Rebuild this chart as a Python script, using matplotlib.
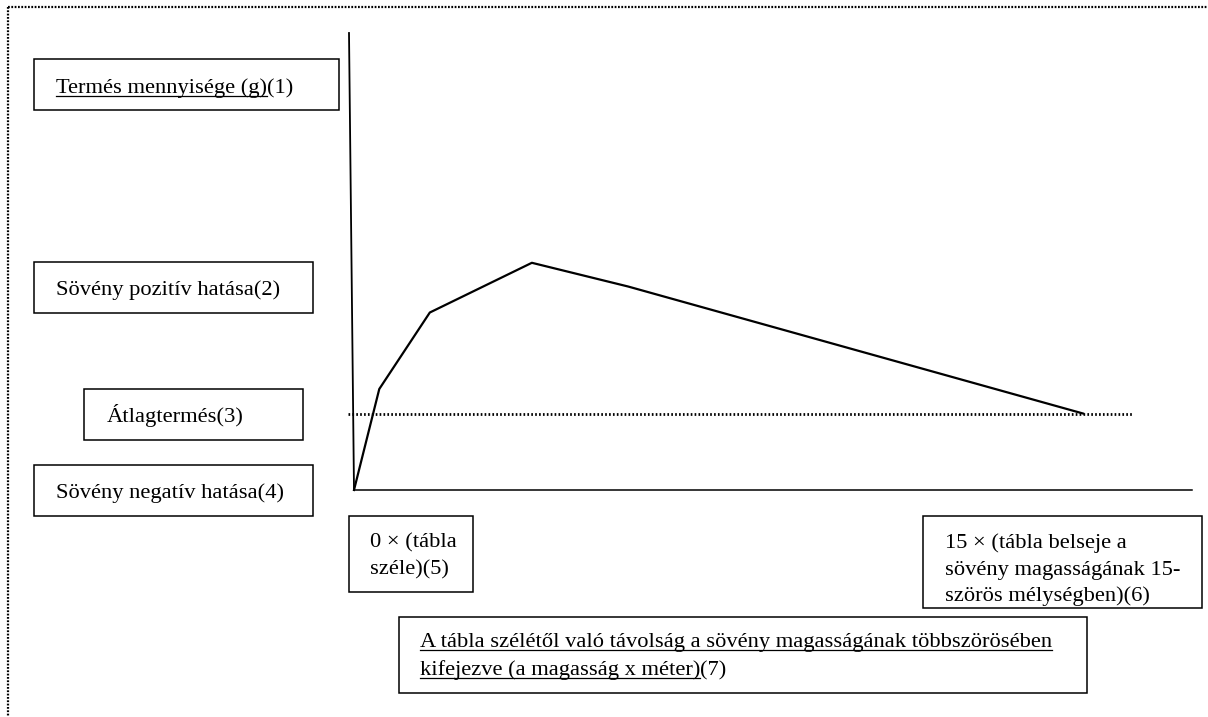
import matplotlib.pyplot as plt
from matplotlib.patches import Rectangle

plt.rcParams['font.family'] = ['Liberation Serif', 'DejaVu Serif']

# distance from field edge (multiples of hedge height) and relative yield (average = 1)
dist_x = [0, 0.52, 1.56, 3.66, 5.64, 15]
yield_y = [0, 1.32, 2.32, 2.97, 2.66, 1.0]
avg_yield = 1.0

label_y = "Termés mennyisége (g)"
label_pos = "Sövény pozitív hatása(2)"
label_avg = "Átlagtermés(3)"
label_neg = "Sövény negatív hatása(4)"
label_x0 = ["0 × (tábla", "széle)(5)"]
label_x15 = ["15 × (tábla belseje a", "sövény magasságának 15-", "szörös mélységben)(6)"]
label_x = ["A tábla szélétől való távolság a sövény magasságának többszörösében",
           "kifejezve (a magasság x méter)"]

W, H = 1208, 717
fig = plt.figure(figsize=(W / 100, H / 100), dpi=100)

# overlay axes in pixel coordinates for the frame and the text boxes
ax = fig.add_axes([0, 0, 1, 1])
ax.set_xlim(0, W)
ax.set_ylim(H, 0)
ax.axis('off')

# data axes: x 0 at px 354, 48.6 px per unit; y 0 at px 490, 76.5 px per unit
x0, x1, y0, y1 = 354, 1192, 490, 33
dax = fig.add_axes([x0 / W, (H - y0) / H, (x1 - x0) / W, (y0 - y1) / H])
dax.set_xlim(0, (x1 - x0) / 48.6)
dax.set_ylim(0, (y0 - y1) / 76.5)
dax.axis('off')
dax.patch.set_alpha(0)

dax.plot([-(x0 - 349) / 48.6, 0], [(y0 - y1) / 76.5, 0], color='black', lw=1.3, clip_on=False)
dax.plot([0, (x1 - x0) / 48.6], [0, 0], color='black', lw=1.1, clip_on=False)
dax.plot(dist_x, yield_y, color='black', lw=1.6, clip_on=False)
dax.plot([-0.13, 16.03], [avg_yield, avg_yield], color='black', lw=2.0,
         linestyle=(0, (0.6, 0.8)), clip_on=False)

# dotted outer frame
ax.plot([8, W], [7, 7], color='black', lw=1.6, linestyle=(0, (0.8, 0.7)))
ax.plot([8, 8], [7, H], color='black', lw=1.6, linestyle=(0, (0.8, 0.7)))

boxes = [(34, 59, 339, 110), (34, 262, 313, 313), (84, 389, 303, 440),
         (34, 465, 313, 516), (349, 516, 473, 592), (923, 516, 1202, 608),
         (399, 617, 1087, 693)]
for bx0, by0, bx1, by1 in boxes:
    ax.add_patch(Rectangle((bx0, by0), bx1 - bx0, by1 - by0, fill=True,
                           facecolor='white', edgecolor='black', lw=1.1, zorder=3))

fs = 16.2
renderer = fig.canvas.get_renderer()


def put(x, y, s, underline=False):
    t = ax.text(x, y, s, fontsize=fs, va='baseline', ha='left', zorder=4)
    bb = t.get_window_extent(renderer)
    xr = bb.x1
    if underline:
        ax.plot([bb.x0, bb.x1], [y + 3, y + 3], color='black', lw=0.9, zorder=4)
    return xr


xe = put(56, 93, label_y, underline=True)
put(xe, 93, "(1)")
put(56, 295, label_pos)
put(107, 422, label_avg)
put(56, 498, label_neg)
put(370, 547, label_x0[0])
put(370, 574, label_x0[1])
for i, s in enumerate(label_x15):
    put(945, 548 + i * 26.5, s)
put(420, 647, label_x[0], underline=True)
xe = put(420, 675, label_x[1], underline=True)
put(xe, 675, "(7)")

fig.savefig('out.png', dpi=100)
